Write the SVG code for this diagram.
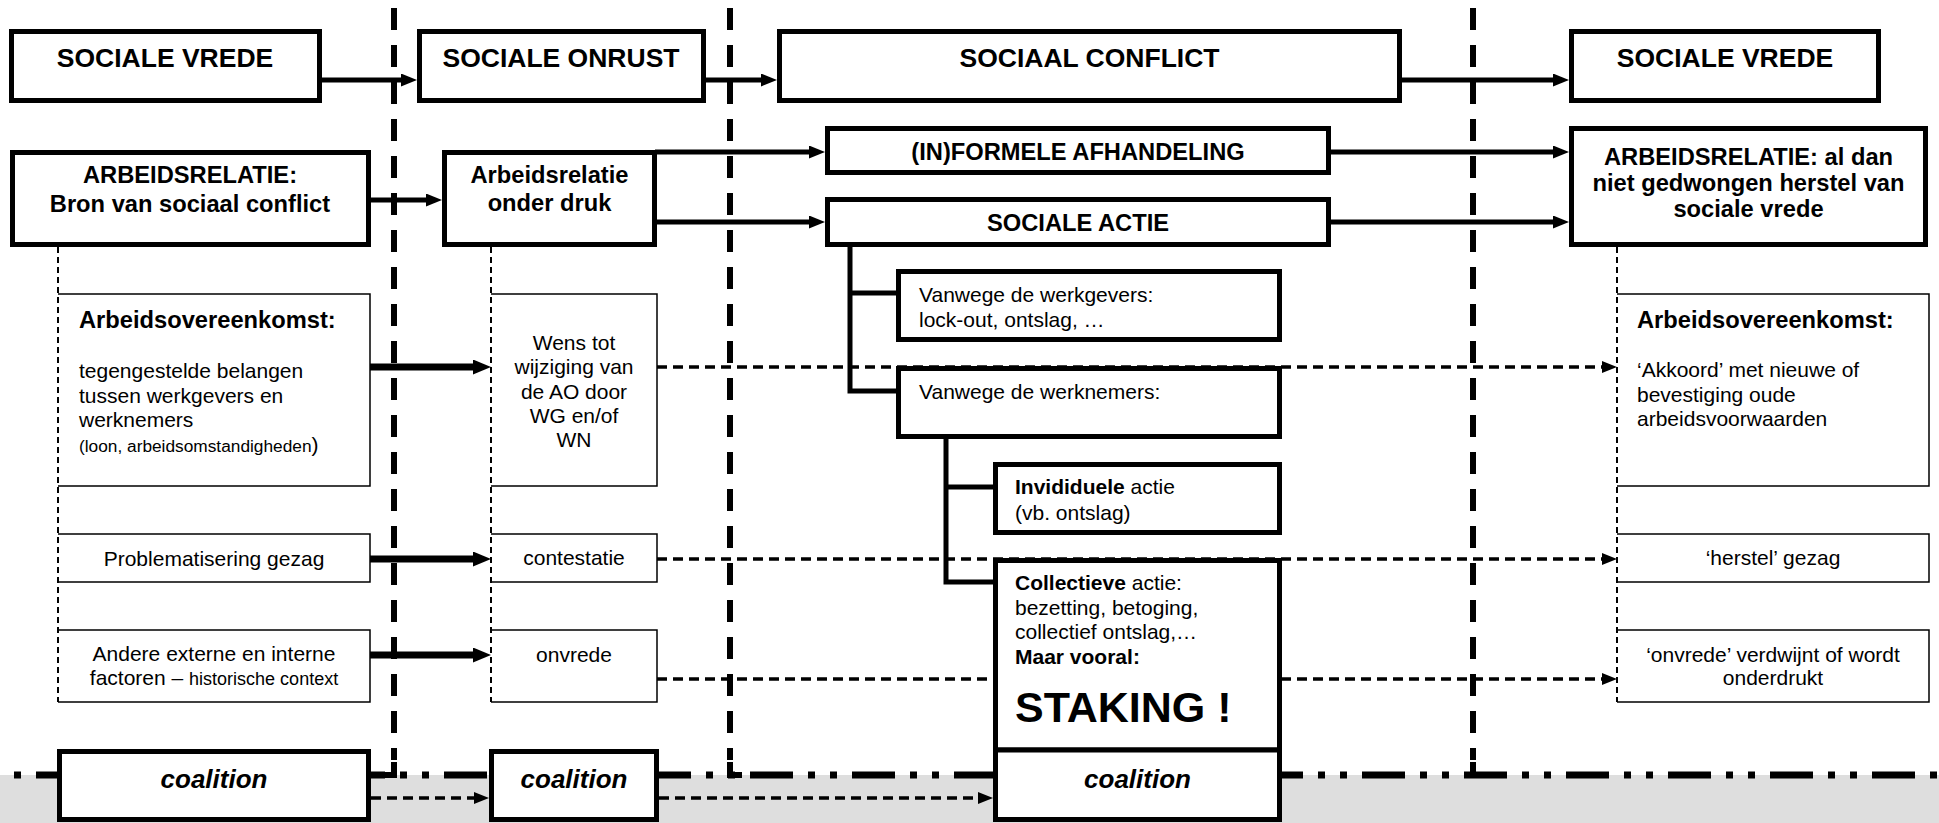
<svg xmlns="http://www.w3.org/2000/svg" width="1939" height="823" viewBox="0 0 1939 823">
<style>
text{font-family:"Liberation Sans",Arial,sans-serif;fill:#000}
.h1{font-size:26.5px;font-weight:bold;text-anchor:middle}
.h2{font-size:23.7px;font-weight:bold;text-anchor:middle}
.t{font-size:21px}
.tc{font-size:21px;text-anchor:middle}
.b{font-weight:bold}
.sm{font-size:18px}
.co{font-size:26px;font-weight:bold;font-style:italic;text-anchor:middle}
.thick{fill:#fff;stroke:#000;stroke-width:5}
.thin{fill:#fff;stroke:#000;stroke-width:1.5}
.c5{fill:none;stroke:#000;stroke-width:5}
.c7{fill:none;stroke:#000;stroke-width:7}
.dash{fill:none;stroke:#000;stroke-width:3.5;stroke-dasharray:10 6}
.life{fill:none;stroke:#000;stroke-width:2;stroke-dasharray:6 4}
.sep{fill:none;stroke:#000;stroke-width:6;stroke-dasharray:22 15}
</style>
<defs>
<marker id="ah" markerUnits="userSpaceOnUse" markerWidth="16" markerHeight="13" refX="2" refY="6.5" orient="auto"><path d="M0,0 L16,6.5 L0,13 z" fill="#000"/></marker>
<marker id="ahb" markerUnits="userSpaceOnUse" markerWidth="18" markerHeight="15" refX="2" refY="7.5" orient="auto"><path d="M0,0 L18,7.5 L0,15 z" fill="#000"/></marker>
<marker id="ahs" markerUnits="userSpaceOnUse" markerWidth="15" markerHeight="12" refX="1" refY="6" orient="auto"><path d="M0,0 L15,6 L0,12 z" fill="#000"/></marker>
</defs>
<rect x="0" y="0" width="1939" height="823" fill="#fff"/>
<rect x="0" y="775" width="1939" height="48" fill="#dedede"/>
<g id="frame">
<line x1="0" y1="775" x2="1939" y2="775" stroke="#000" stroke-width="7" stroke-dasharray="43 15 7 15 7 15" stroke-dashoffset="66"/>
<line class="sep" x1="394" y1="8" x2="394" y2="760"/>
<line class="sep" x1="730" y1="8" x2="730" y2="760"/>
<line class="sep" x1="1473" y1="8" x2="1473" y2="760"/>
<path d="M394,762 V775 H369" fill="none" stroke="#000" stroke-width="6"/>
<path d="M730,762 V775 H742" fill="none" stroke="#000" stroke-width="6"/>
<line x1="1473" y1="762" x2="1473" y2="776" stroke="#000" stroke-width="6"/>
</g>
<g id="connectors">
<line class="c5" x1="322" y1="80" x2="403" y2="80" marker-end="url(#ah)"/>
<line class="c5" x1="706" y1="80" x2="763" y2="80" marker-end="url(#ah)"/>
<line class="c5" x1="1402" y1="80" x2="1555" y2="80" marker-end="url(#ah)"/>
<line class="c5" x1="371" y1="200" x2="428" y2="200" marker-end="url(#ah)"/>
<line class="c5" x1="655" y1="152" x2="811" y2="152" marker-end="url(#ah)"/>
<line class="c5" x1="655" y1="222" x2="811" y2="222" marker-end="url(#ah)"/>
<line class="c5" x1="1331" y1="152" x2="1555" y2="152" marker-end="url(#ah)"/>
<line class="c5" x1="1331" y1="222" x2="1555" y2="222" marker-end="url(#ah)"/>
<path class="c5" d="M850,245 V391 H898 M850,293 H898"/>
<path class="c5" d="M946,437 V582 H995 M946,487 H995"/>
<line class="c7" x1="370" y1="367" x2="475" y2="367" marker-end="url(#ahb)"/>
<line class="c7" x1="370" y1="559" x2="475" y2="559" marker-end="url(#ahb)"/>
<line class="c7" x1="370" y1="655" x2="475" y2="655" marker-end="url(#ahb)"/>
<line class="dash" x1="657" y1="367" x2="1603" y2="367" marker-end="url(#ahs)"/>
<line class="dash" x1="657" y1="559" x2="1603" y2="559" marker-end="url(#ahs)"/>
<line class="dash" x1="657" y1="679" x2="1603" y2="679" marker-end="url(#ahs)"/>
<line class="dash" x1="371" y1="798" x2="475" y2="798" marker-end="url(#ahs)"/>
<line class="dash" x1="659" y1="798" x2="979" y2="798" marker-end="url(#ahs)"/>
</g>
<g id="n-vrede1"><rect class="thick" x="11.5" y="31.5" width="308" height="69"/><text class="h1" x="165" y="67">SOCIALE VREDE</text></g>
<g id="n-onrust"><rect class="thick" x="419.5" y="31.5" width="284" height="69"/><text class="h1" x="561" y="67">SOCIALE ONRUST</text></g>
<g id="n-conflict"><rect class="thick" x="779.5" y="31.5" width="620" height="69"/><text class="h1" x="1089.5" y="67">SOCIAAL CONFLICT</text></g>
<g id="n-vrede2"><rect class="thick" x="1571.5" y="31.5" width="307" height="69"/><text class="h1" x="1725" y="67">SOCIALE VREDE</text></g>
<g id="n-arbeidsrelatie"><rect class="thick" x="12.5" y="152.5" width="356" height="92"/><text class="h2" x="190" y="183">ARBEIDSRELATIE:</text><text class="h2" x="190" y="212">Bron van sociaal conflict</text></g>
<g id="n-onderdruk"><rect class="thick" x="444.5" y="152.5" width="210" height="92"/><text class="h2" x="549.5" y="183">Arbeidsrelatie</text><text class="h2" x="549.5" y="211">onder druk</text></g>
<g id="n-informeel"><rect class="thick" x="827.5" y="128.5" width="501" height="44"/><text class="h2" x="1078" y="160">(IN)FORMELE AFHANDELING</text></g>
<g id="n-socialeactie"><rect class="thick" x="827.5" y="199.5" width="501" height="45"/><text class="h2" x="1078" y="231">SOCIALE ACTIE</text></g>
<g id="n-herstel"><rect class="thick" x="1571.5" y="128.5" width="354" height="116"/><text class="h2" x="1748.5" y="165">ARBEIDSRELATIE: al dan</text><text class="h2" x="1748.5" y="191">niet gedwongen herstel van</text><text class="h2" x="1748.5" y="217">sociale vrede</text></g>
<g id="n-ao-left"><path class="thin" d="M58,294 H370 V486 H58"/><text class="t b" x="79" y="328" style="font-size:23.7px">Arbeidsovereenkomst:</text><text class="t" x="79" y="378">tegengestelde belangen</text><text class="t" x="79" y="403">tussen werkgevers en</text><text class="t" x="79" y="427">werknemers</text><text class="t" x="79" y="452"><tspan style="font-size:17.3px">(loon, arbeidsomstandigheden</tspan>)</text></g>
<g id="n-probl"><path class="thin" d="M58,534 H370 V582 H58"/><text class="tc" x="214" y="566">Problematisering gezag</text></g>
<g id="n-andere"><path class="thin" d="M58,630 H370 V702 H58"/><text class="tc" x="214" y="661">Andere externe en interne</text><text class="tc" x="214" y="685">factoren – <tspan class="sm">historische context</tspan></text></g>
<g id="n-wens"><path class="thin" d="M491,294 H657 V486 H491"/><text class="tc" x="574" y="350">Wens tot</text><text class="tc" x="574" y="374">wijziging van</text><text class="tc" x="574" y="399">de AO door</text><text class="tc" x="574" y="423">WG en/of</text><text class="tc" x="574" y="447">WN</text></g>
<g id="n-contestatie"><path class="thin" d="M491,534 H657 V582 H491"/><text class="tc" x="574" y="565">contestatie</text></g>
<g id="n-onvrede"><path class="thin" d="M491,630 H657 V702 H491"/><text class="tc" x="574" y="662">onvrede</text></g>
<g id="n-ao-right"><path class="thin" d="M1617,294 H1929 V486 H1617"/><text class="t b" x="1637" y="328" style="font-size:23.7px">Arbeidsovereenkomst:</text><text class="t" x="1637" y="377">‘Akkoord’ met nieuwe of</text><text class="t" x="1637" y="402">bevestiging oude</text><text class="t" x="1637" y="426">arbeidsvoorwaarden</text></g>
<g id="n-gezag"><path class="thin" d="M1617,534 H1929 V582 H1617"/><text class="tc" x="1773" y="565">‘herstel’ gezag</text></g>
<g id="n-verdwijnt"><path class="thin" d="M1617,630 H1929 V702 H1617"/><text class="tc" x="1773" y="662">‘onvrede’ verdwijnt of wordt</text><text class="tc" x="1773" y="685">onderdrukt</text></g>
<g id="lifelines">
<line class="life" x1="58" y1="247" x2="58" y2="702"/>
<line class="life" x1="491" y1="247" x2="491" y2="702"/>
<line class="life" x1="1617" y1="247" x2="1617" y2="702"/>
</g>
<g id="n-werkgevers"><rect class="thick" x="898.5" y="271.5" width="381" height="68"/><text class="t" x="919" y="302">Vanwege de werkgevers:</text><text class="t" x="919" y="327">lock-out, ontslag, …</text></g>
<g id="n-werknemers"><rect class="thick" x="898.5" y="368.5" width="381" height="68"/><text class="t" x="919" y="399">Vanwege de werknemers:</text></g>
<g id="n-individueel"><rect class="thick" x="995.5" y="464.5" width="284" height="68"/><text class="t" x="1015" y="494"><tspan class="b">Invididuele</tspan> actie</text><text class="t" x="1015" y="520">(vb. ontslag)</text></g>
<g id="n-collectief"><rect class="thick" x="995.5" y="560.5" width="284" height="189.5"/><text class="t" x="1015" y="590"><tspan class="b">Collectieve</tspan> actie:</text><text class="t" x="1015" y="615">bezetting, betoging,</text><text class="t" x="1015" y="639">collectief ontslag,…</text><text class="t b" x="1015" y="664">Maar vooral:</text><text class="b" x="1015" y="722" style="font-size:43px">STAKING !</text></g>
<g id="n-coalition1"><rect class="thick" x="59.5" y="751.5" width="309" height="68"/><text class="co" x="214" y="788">coalition</text></g>
<g id="n-coalition2"><rect class="thick" x="491.5" y="751.5" width="165" height="68"/><text class="co" x="574" y="788">coalition</text></g>
<g id="n-coalition3"><rect class="thick" x="995.5" y="750" width="284" height="69.5"/><text class="co" x="1137.5" y="788">coalition</text></g>
</svg>
